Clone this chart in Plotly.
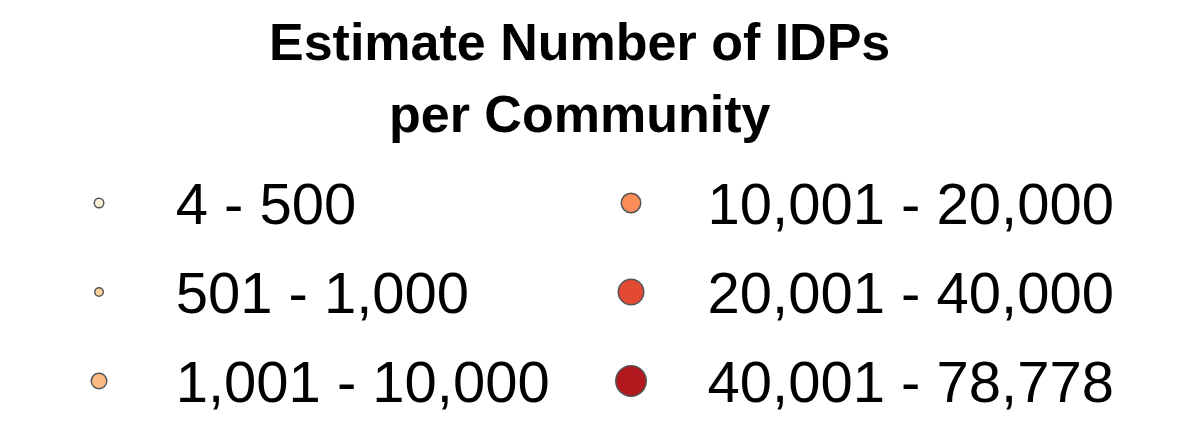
import plotly.graph_objects as go

categories = ["4 - 500", "501 - 1,000", "1,001 - 10,000",
              "10,001 - 20,000", "20,001 - 40,000", "40,001 - 78,778"]
colors = ["#fef0d9", "#fdd49e", "#fdbb84", "#fc8d59", "#e34a33", "#b2191e"]
sizes = [9.5, 8.5, 15.5, 19.5, 25.5, 30.5]
title_lines = ["Estimate Number of IDPs", "per Community"]

cols = [i // 3 for i in range(len(categories))]
rows = [i % 3 for i in range(len(categories))]

fig = go.Figure()
fig.add_trace(go.Scatter(
    x=cols, y=rows, mode="markers",
    marker=dict(size=sizes, color=colors, opacity=1,
                line=dict(color="#555555", width=1.5)),
    hoverinfo="skip", showlegend=False,
))
fig.add_trace(go.Scatter(
    x=[c + 0.144 for c in cols], y=[r + 0.07 for r in rows], mode="text",
    text=categories, textposition="middle right",
    textfont=dict(family="Liberation Sans, Arial, sans-serif", size=58, color="#000000"),
    hoverinfo="skip", showlegend=False,
))
for k, (line, ypos) in enumerate(zip(title_lines, [0.997, 0.830])):
    fig.add_annotation(
        text="<b>" + line + "</b>", xref="paper", yref="paper",
        x=0.485, y=ypos, xanchor="center", yanchor="top", yshift=-2,
        showarrow=False, align="center",
        font=dict(family="Liberation Sans, Arial, sans-serif", size=52, color="#000000"),
    )
fig.update_layout(
    width=1179, height=429,
    margin=dict(l=0, r=0, t=0, b=0),
    paper_bgcolor="white", plot_bgcolor="white",
    xaxis=dict(range=[-0.1711, 2.0451], visible=False),
    yaxis=dict(range=[2.629, -2.191], visible=False),
)
fig.write_html("out.html")
